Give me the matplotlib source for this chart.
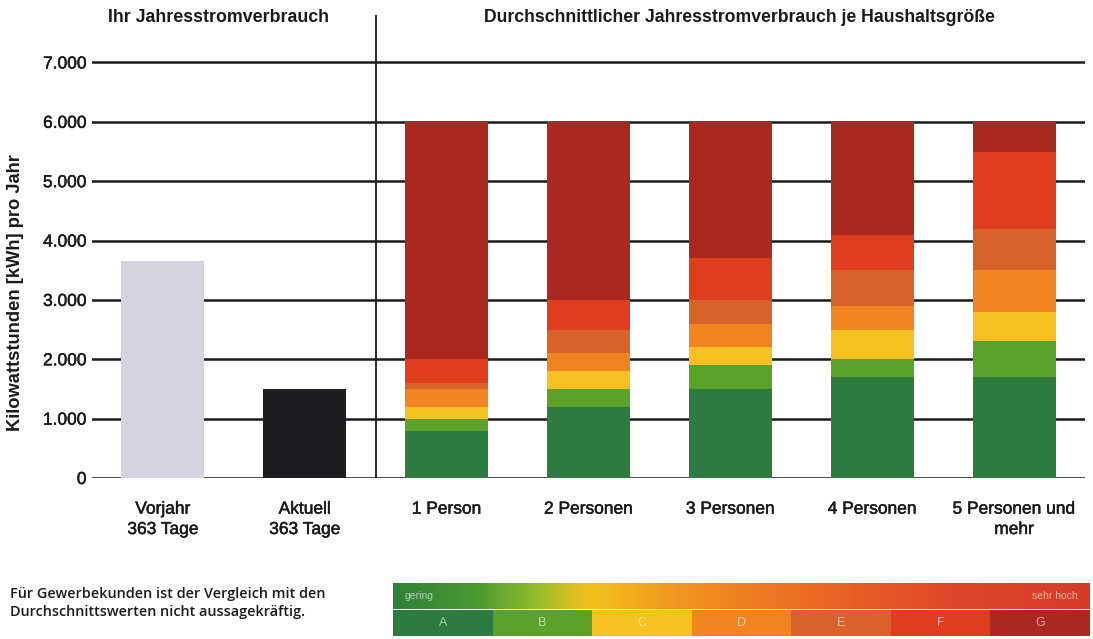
import numpy as np
import matplotlib
matplotlib.use("Agg")
import matplotlib.pyplot as plt
import matplotlib.patheffects as pe
from matplotlib.colors import LinearSegmentedColormap

plt.rcParams["font.family"] = ["Liberation Sans", "DejaVu Sans"]

# own consumption (kWh per year)
own_labels = ["Vorjahr\n363 Tage", "Aktuell\n363 Tage"]
own_values = [3650, 1500]
own_colors = ["#d5d3e0", "#1d1d21"]

# average consumption per household size: upper limit of each class A..G
households = ["1 Person", "2 Personen", "3 Personen", "4 Personen",
              "5 Personen und\nmehr"]
classes = ["A", "B", "C", "D", "E", "F", "G"]
limit_A = [800, 1200, 1500, 1700, 1700]
limit_B = [1000, 1500, 1900, 2000, 2300]
limit_C = [1200, 1800, 2200, 2500, 2800]
limit_D = [1500, 2100, 2600, 2900, 3500]
limit_E = [1600, 2500, 3000, 3500, 4200]
limit_F = [2000, 3000, 3700, 4100, 5500]
limit_G = [6000, 6000, 6000, 6000, 6000]
class_colors = ["#2d7b40", "#5ba22b", "#f7c11f", "#f1841f",
                "#d9622a", "#e03d1f", "#a9281f"]

y_ticks = [0, 1000, 2000, 3000, 4000, 5000, 6000, 7000]

thick = [pe.withStroke(linewidth=0.35, foreground="#1a1a1a")]


def fmt(v):
    return "{:,}".format(v).replace(",", ".")


fig = plt.figure(figsize=(10.93, 6.39), dpi=100)
ax = fig.add_axes([92 / 1093, 161 / 639, 993 / 1093, 463 / 639])

x_own = np.arange(len(own_values))
ax.bar(x_own, own_values, width=0.585, color=own_colors, zorder=3,
       linewidth=0)

x_hh = np.arange(len(households)) + len(own_values)
limits = [limit_A, limit_B, limit_C, limit_D, limit_E, limit_F, limit_G]
bottom = np.zeros(len(households))
for lim, col in zip(limits, class_colors):
    lim = np.array(lim, dtype=float)
    ax.bar(x_hh, lim - bottom, bottom=bottom, width=0.585, color=col,
           zorder=3, linewidth=0)
    bottom = lim

ax.set_xlim(-0.5, 6.5)
ax.set_ylim(0, 7800)
ax.set_yticks(y_ticks)
ax.set_yticklabels([fmt(v) for v in y_ticks], fontsize=12.5,
                   color="#1a1a1a")
for y in y_ticks:
    ax.axhline(y, color="#1a1a1a", lw=1.8, zorder=1)
ax.axvline(1.5, color="#1a1a1a", lw=1.3, zorder=1)

ax.set_xticks(list(x_own) + list(x_hh))
ax.set_xticklabels(own_labels + households, fontsize=12.5, linespacing=1.45,
                   va="top", color="#1a1a1a")
ax.tick_params(axis="both", length=0)
ax.tick_params(axis="x", pad=17)
ax.tick_params(axis="y", pad=4)
for lab in ax.get_xticklabels() + ax.get_yticklabels():
    lab.set_path_effects(thick)
for s in ax.spines.values():
    s.set_visible(False)

fig.text(16 / 1093, 1 - 293 / 639, "Kilowattstunden [kWh] pro Jahr",
         rotation=90, ha="center", va="center", fontsize=13.2,
         fontweight="bold", color="#1a1a1a")

fig.text(219 / 1093, 1 - 17 / 639, "Ihr Jahresstromverbrauch",
         ha="center", va="center", fontsize=12.8, fontweight="bold",
         color="#1a1a1a")
fig.text(739 / 1093, 1 - 17 / 639,
         "Durchschnittlicher Jahresstromverbrauch je Haushaltsgröße",
         ha="center", va="center", fontsize=12.7, fontweight="bold",
         color="#1a1a1a")

fig.text(10 / 1093, 1 - 603 / 639,
         "Für Gewerbekunden ist der Vergleich mit den\n"
         "Durchschnittswerten nicht aussagekräftig.",
         ha="left", va="center", fontsize=10.4, linespacing=1.45,
         family=["Open Sans", "DejaVu Sans"], fontweight="semibold",
         color="#1a1a1a")

# efficiency scale
lg = fig.add_axes([393 / 1093, 3 / 639, 697 / 1093, 53 / 639])
lg.set_xlim(0, 7)
lg.set_ylim(0, 2)
lg.axis("off")
grad = LinearSegmentedColormap.from_list(
    "scale", [(0.0, "#2f8138"), (0.12, "#4c9a30"), (0.2, "#8fbb2d"),
              (0.28, "#f2c21d"), (0.4, "#f3981f"), (0.6, "#ea6a24"),
              (0.8, "#e2462a"), (1.0, "#d63b27")])
lg.imshow(np.linspace(0, 1, 256)[None, :], cmap=grad, aspect="auto",
          extent=[0, 7, 1, 2])
for i, (c, col) in enumerate(zip(classes, class_colors)):
    lg.add_patch(plt.Rectangle((i, 0), 1, 1, color=col, lw=0))
    lg.text(i + 0.5, 0.5, c, ha="center", va="center", fontsize=9,
            color="white", alpha=0.6)
lg.text(0.12, 1.5, "gering", ha="left", va="center", fontsize=7.5,
        color="white", alpha=0.6)
lg.text(6.88, 1.5, "sehr hoch", ha="right", va="center", fontsize=7.5,
        color="white", alpha=0.6)

fig.savefig("out.png", dpi=100)
